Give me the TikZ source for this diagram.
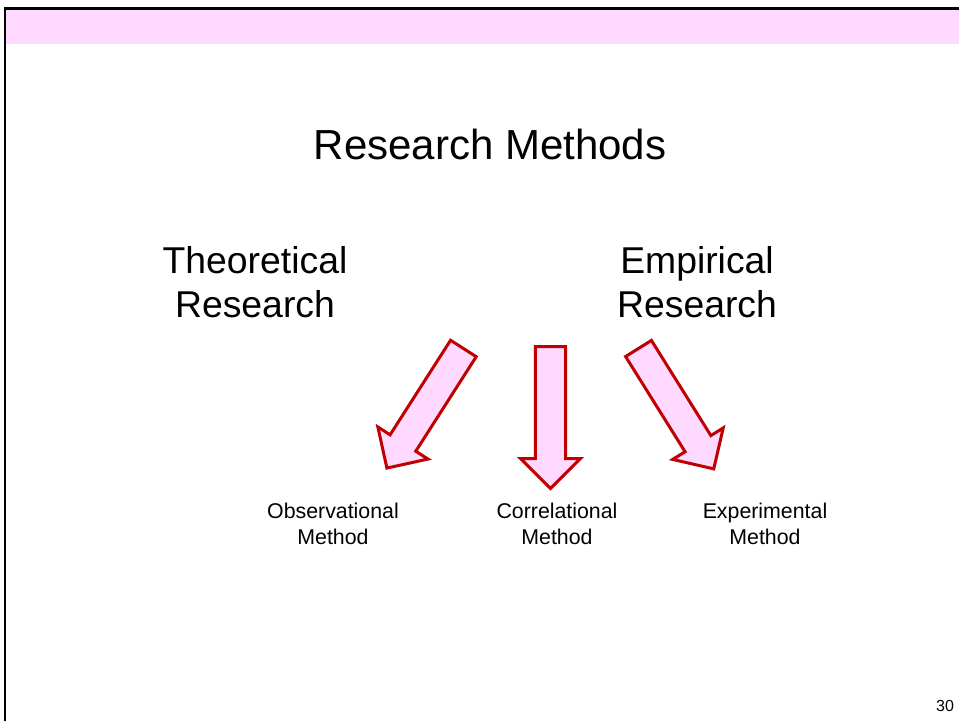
\documentclass[tikz,border=0pt]{standalone}
\usepackage{fontspec}
\setmainfont{Liberation Sans}
\usetikzlibrary{shapes.arrows}
\definecolor{slidepink}{RGB}{255,217,255}
\definecolor{arrowred}{RGB}{192,0,0}

\begin{document}
\begin{tikzpicture}[x=0.75pt, y=-0.75pt,
      every node/.style = {align=center, inner sep=0pt},
      heading/.style    = {font=\fontsize{31.5}{38}\selectfont},
      branch/.style     = {font=\fontsize{28}{33}\selectfont},
      method/.style     = {font=\fontsize{16}{19.5}\selectfont},
      pagenum/.style    = {font=\fontsize{12}{14}\selectfont},
      blockarrow/.style = {single arrow, draw=arrowred, fill=slidepink, line width=2.25pt,
                           minimum height=106.5pt, inner xsep=0pt, inner ysep=10.3pt,
                           single arrow head extend=10.9pt, anchor=tail}
    ]
    \useasboundingbox (0,0) rectangle (959,721);

    % slide frame
    \fill[slidepink] (6,10) rectangle (959,43.5);
    \draw[line width=2pt] (959,8.5) -- (5,8.5) -- (5,721);

    \node (title)       [heading] at (490,144) {Research Methods};
    \node (theoretical) [branch]  at (255,282) {Theoretical\\Research};
    \node (empirical)   [branch]  at (697,282) {Empirical\\Research};

    \coordinate (obstail) at (464.2,347.2);
    \coordinate (cortail) at (550.5,345);
    \coordinate (exptail) at (637.7,347.2);

    \node (obsarrow) [blockarrow, rotate=237.4] at (obstail) {};
    \node (corarrow) [blockarrow, rotate=270]   at (cortail) {};
    \node (exparrow) [blockarrow, rotate=302]   at (exptail) {};

    \node (observational) [method] at (333,524) {Observational\\Method};
    \node (correlational) [method] at (557,524) {Correlational\\Method};
    \node (experimental)  [method] at (765,524) {Experimental\\Method};

    \node (slideno) [pagenum] at (945,706) {30};
  \end{tikzpicture}
\end{document}
